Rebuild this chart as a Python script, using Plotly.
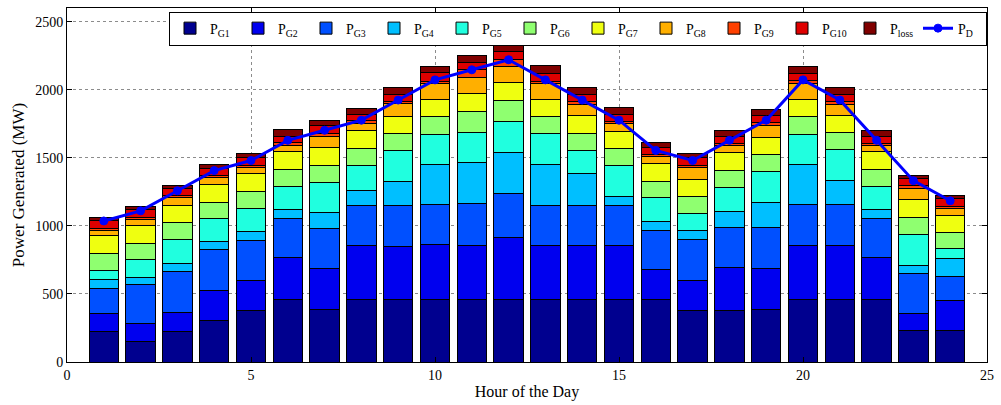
import plotly.graph_objects as go

hours = list(range(1, 25))

PG1 = [226, 148, 221, 303, 379, 456, 384, 456, 456, 456, 456, 456, 456, 456, 456, 456, 379, 379, 384, 456, 456, 456, 231, 231]
PG2 = [132, 136, 141, 219, 223, 311, 303, 397, 389, 406, 397, 457, 397, 397, 397, 222, 223, 316, 303, 397, 397, 311, 126, 221]
PG3 = [182, 282, 306, 304, 294, 290, 297, 298, 304, 294, 310, 326, 296, 296, 296, 291, 299, 291, 304, 301, 301, 290, 296, 179]
PG4 = [66, 56, 58, 56, 63, 63, 116, 112, 177, 297, 302, 299, 304, 238, 66, 63, 63, 122, 182, 299, 180, 60, 59, 127]
PG5 = [68, 129, 175, 175, 171, 170, 219, 177, 229, 218, 218, 226, 223, 165, 226, 175, 127, 175, 226, 221, 228, 173, 223, 73]
PG6 = [122, 121, 122, 116, 124, 124, 126, 127, 121, 129, 158, 160, 124, 127, 126, 122, 124, 124, 122, 126, 121, 124, 124, 121]
PG7 = [131, 131, 126, 131, 133, 133, 132, 131, 124, 126, 131, 131, 127, 131, 129, 129, 128, 131, 128, 131, 127, 131, 131, 124]
PG8 = [42, 41, 58, 49, 41, 42, 82, 57, 95, 117, 120, 114, 118, 82, 53, 50, 85, 51, 88, 117, 82, 44, 85, 49]
PG9 = [15, 17, 15, 17, 17, 21, 20, 17, 19, 17, 53, 54, 17, 20, 17, 15, 17, 17, 19, 19, 20, 19, 20, 19]
PG10 = [56, 59, 53, 53, 56, 49, 58, 48, 49, 66, 56, 61, 59, 53, 54, 54, 56, 53, 54, 54, 53, 51, 53, 58]
Ploss = [24, 24, 25, 30, 34, 49, 34, 44, 53, 48, 53, 48, 54, 51, 46, 34, 29, 39, 43, 53, 54, 44, 24, 20]
PD = [1036, 1110, 1258, 1406, 1480, 1628, 1702, 1776, 1924, 2072, 2146, 2220,
      2072, 1924, 1776, 1554, 1480, 1628, 1776, 2072, 1924, 1628, 1332, 1184]

series_names = ["P<sub>G1</sub>", "P<sub>G2</sub>", "P<sub>G3</sub>", "P<sub>G4</sub>",
                "P<sub>G5</sub>", "P<sub>G6</sub>", "P<sub>G7</sub>", "P<sub>G8</sub>",
                "P<sub>G9</sub>", "P<sub>G10</sub>", "P<sub>loss</sub>"]
series_vals = [PG1, PG2, PG3, PG4, PG5, PG6, PG7, PG8, PG9, PG10, Ploss]
colors = ["#00008F", "#0000EF", "#0050FF", "#00BFFF", "#20FFDF", "#8FFF70",
          "#EFFF10", "#FFAF00", "#FF4000", "#DF0000", "#800000"]

FONT = "Liberation Serif"

fig = go.Figure()
for name, vals, col in zip(series_names, series_vals, colors):
    fig.add_trace(go.Bar(x=hours, y=vals, name=name, width=0.8,
                         marker=dict(color=col, line=dict(color="black", width=1))))

fig.add_trace(go.Scatter(x=hours, y=PD, name="P<sub>D</sub>", mode="lines+markers",
                         line=dict(color="#0000FF", width=3),
                         marker=dict(symbol="circle", size=8, color="#0000FF",
                                     line=dict(color="#0000FF", width=1))))

axis_common = dict(showline=True, linecolor="black", linewidth=1, mirror="ticks",
                   ticks="inside", ticklen=5, tickcolor="black", zeroline=False,
                   showgrid=True, gridcolor="#8c8c8c", griddash="dot", gridwidth=1,
                   tickfont=dict(family=FONT, size=14, color="black"))

fig.update_layout(
    width=1001, height=405,
    margin=dict(l=67, r=7, t=8, b=41),
    barmode="stack",
    plot_bgcolor="white", paper_bgcolor="white",
    font=dict(family=FONT, color="black"),
    xaxis=dict(range=[0, 25], tickvals=[0, 5, 10, 15, 20, 25],
               title=dict(text="Hour of the Day", font=dict(family=FONT, size=16), standoff=4),
               **axis_common),
    yaxis=dict(range=[0, 2600], tickvals=[0, 500, 1000, 1500, 2000, 2500],
               title=dict(text="Power Generated (MW)", font=dict(family=FONT, size=17), standoff=6),
               **axis_common),
    legend=dict(orientation="h", x=1.0, xanchor="right", y=0.99, yanchor="top",
                bgcolor="white", bordercolor="black", borderwidth=1,
                font=dict(family=FONT, size=14, color="black"),
                traceorder="normal", entrywidth=23, entrywidthmode="pixels",
                tracegroupgap=0),
)

fig.write_html("out.html")
